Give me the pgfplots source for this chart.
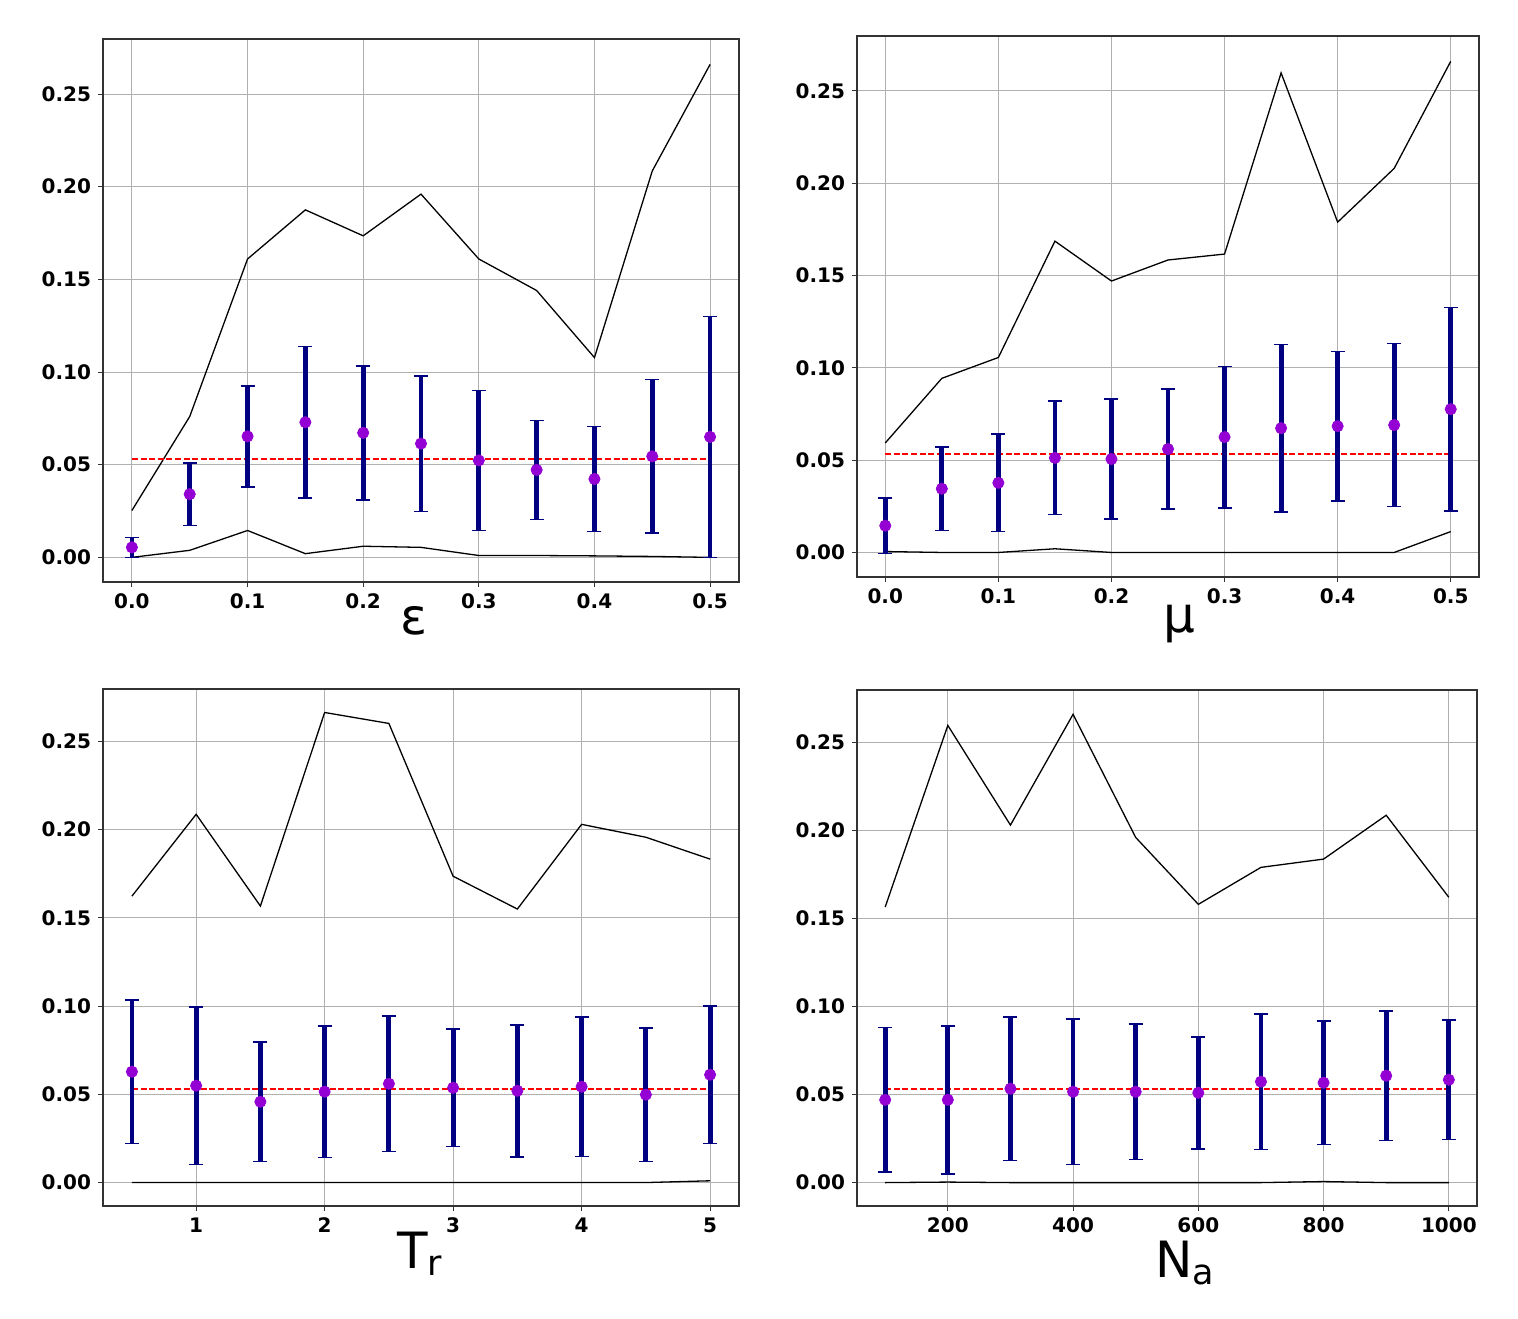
\documentclass[border=0pt]{standalone}
\usepackage{pgfplots}
\pgfplotsset{compat=1.18}
\usepackage{pgfplotstable}
\usepackage{fontspec}
\setmainfont{DejaVu Sans}
\definecolor{navyc}{HTML}{000080}
\definecolor{violetc}{HTML}{9400D3}
\definecolor{gridc}{HTML}{B0B0B0}
\definecolor{redc}{HTML}{FF0000}
\newcommand{\ticfont}{\fontsize{10}{11}\selectfont\bfseries}
\newcommand{\labfont}{\fontsize{25}{26}\selectfont}
\newcommand{\subl}[1]{\raisebox{-3.6pt}{\fontsize{17.5}{18}\selectfont #1}}

\pgfplotstableread{
x max min mean std
0.00 0.0253 0.0000 0.0054 0.0054
0.05 0.0760 0.0038 0.0341 0.0169
0.10 0.1610 0.0145 0.0653 0.0273
0.15 0.1875 0.0020 0.0729 0.0408
0.20 0.1735 0.0060 0.0672 0.0362
0.25 0.1960 0.0054 0.0614 0.0366
0.30 0.1610 0.0010 0.0523 0.0378
0.35 0.1440 0.0010 0.0472 0.0267
0.40 0.1078 0.0008 0.0423 0.0283
0.45 0.2085 0.0005 0.0545 0.0414
0.50 0.2660 0.0000 0.0650 0.0650
}\tA
\pgfplotstableread{
x max min mean std
0.00 0.0593 0.0005 0.0145 0.0150
0.05 0.0943 0.0000 0.0345 0.0226
0.10 0.1056 0.0000 0.0377 0.0264
0.15 0.1686 0.0020 0.0512 0.0307
0.20 0.1470 0.0000 0.0506 0.0324
0.25 0.1584 0.0000 0.0560 0.0324
0.30 0.1616 0.0000 0.0625 0.0383
0.35 0.2597 0.0000 0.0673 0.0453
0.40 0.1789 0.0000 0.0684 0.0404
0.45 0.2080 0.0000 0.0690 0.0441
0.50 0.2660 0.0113 0.0776 0.0550
}\tB
\pgfplotstableread{
x max min mean std
0.5 0.1623 0.0000 0.0628 0.0407
1.0 0.2087 0.0000 0.0549 0.0446
1.5 0.1567 0.0000 0.0458 0.0339
2.0 0.2664 0.0000 0.0515 0.0373
2.5 0.2602 0.0000 0.0560 0.0385
3.0 0.1736 0.0000 0.0537 0.0333
3.5 0.1550 0.0000 0.0520 0.0374
4.0 0.2030 0.0000 0.0543 0.0396
4.5 0.1957 0.0000 0.0498 0.0379
5.0 0.1833 0.0010 0.0611 0.0390
}\tC
\pgfplotstableread{
x max min mean std
100 0.1565 0.0000 0.0470 0.0410
200 0.2596 0.0003 0.0470 0.0420
300 0.2030 0.0000 0.0533 0.0408
400 0.2659 0.0000 0.0516 0.0414
500 0.1960 0.0000 0.0516 0.0385
600 0.1580 0.0000 0.0510 0.0318
700 0.1790 0.0000 0.0573 0.0385
800 0.1837 0.0006 0.0567 0.0351
900 0.2086 0.0000 0.0607 0.0368
1000 0.1620 0.0000 0.0584 0.0340
}\tD

\pgfplotsset{
  panel/.style={
    scale only axis,
    anchor=north west,
    axis line style={line width=0.6pt, black!80},
    grid=major,
    major grid style={line width=0.5pt, gridc},
    tick align=outside,
    major tick length=2.5pt,
    tick style={line width=0.5pt, black!80},
    xtick pos=bottom, ytick pos=left,
    /pgf/number format/assume math mode=true,
    /pgf/number format/1000 sep={},
    tick label style={font=\ticfont},
    ytick={0,0.05,0.10,0.15,0.20,0.25},
    yticklabel style={/pgf/number format/fixed, /pgf/number format/fixed zerofill, /pgf/number format/precision=2},
    scaled ticks=false,
    ymin=-0.0133, ymax=0.2797,
    label style={font=\labfont},
  },
  maxline/.style={draw=black, line width=0.65pt, mark=none},
  meanline/.style={draw=redc, line width=0.95pt, dash pattern=on 3pt off 1.3pt, mark=none},
  ebars/.style={only marks, mark=*, mark size=2.8pt, mark options={violetc, draw=violetc, fill=violetc},
    error bars/.cd, y dir=both, y explicit,
    error bar style={line width=2.4pt, navyc},
    error mark options={rotate=90, line width=0.8pt, mark size=3.5pt, navyc}},
}

\begin{document}
\begin{tikzpicture}
\path (0pt,0pt) rectangle (759pt,-659pt);

\begin{axis}[panel, at={(51.5pt,-19.5pt)}, width=318pt, height=271.5pt,
  xmin=-0.025, xmax=0.525, xtick={0,0.1,0.2,0.3,0.4,0.5},
  xticklabel style={/pgf/number format/fixed, /pgf/number format/fixed zerofill, /pgf/number format/precision=1},
  xlabel={ε}, xlabel style={at={(axis description cs:0.489,0)}, anchor=base, yshift=-26pt}]
\addplot[maxline] table[x=x,y=max]{\tA};
\addplot[maxline] table[x=x,y=min]{\tA};
\addplot[meanline] coordinates {(0,0.0529) (0.5,0.0529)};
\addplot[ebars] table[x=x,y=mean,y error=std]{\tA};
\end{axis}

\begin{axis}[panel, at={(428.5pt,-18pt)}, width=311pt, height=270.5pt,
  xmin=-0.025, xmax=0.525, xtick={0,0.1,0.2,0.3,0.4,0.5},
  xticklabel style={/pgf/number format/fixed, /pgf/number format/fixed zerofill, /pgf/number format/precision=1},
  xlabel={μ}, xlabel style={at={(axis description cs:0.518,0)}, anchor=base, yshift=-27.5pt}]
\addplot[maxline] table[x=x,y=max]{\tB};
\addplot[maxline] table[x=x,y=min]{\tB};
\addplot[meanline] coordinates {(0,0.0533) (0.5,0.0533)};
\addplot[ebars] table[x=x,y=mean,y error=std]{\tB};
\end{axis}

\begin{axis}[panel, at={(51.5pt,-344.5pt)}, width=318pt, height=258.5pt,
  xmin=0.275, xmax=5.225, xtick={1,2,3,4,5},
  xlabel={T\subl{r}}, xlabel style={at={(axis description cs:0.4976,0)}, anchor=base, yshift=-31pt}]
\addplot[maxline] table[x=x,y=max]{\tC};
\addplot[maxline] table[x=x,y=min]{\tC};
\addplot[meanline] coordinates {(0.5,0.0532) (5,0.0532)};
\addplot[ebars] table[x=x,y=mean,y error=std]{\tC};
\end{axis}

\begin{axis}[panel, at={(428.5pt,-345pt)}, width=310pt, height=258pt,
  xmin=55, xmax=1045, xtick={200,400,600,800,1000},
  xlabel={N\subl{a}}, xlabel style={at={(axis description cs:0.529,0)}, anchor=base, yshift=-35.5pt}]
\addplot[maxline] table[x=x,y=max]{\tD};
\addplot[maxline] table[x=x,y=min]{\tD};
\addplot[meanline] coordinates {(100,0.0533) (1000,0.0533)};
\addplot[ebars] table[x=x,y=mean,y error=std]{\tD};
\end{axis}
\end{tikzpicture}
\end{document}
